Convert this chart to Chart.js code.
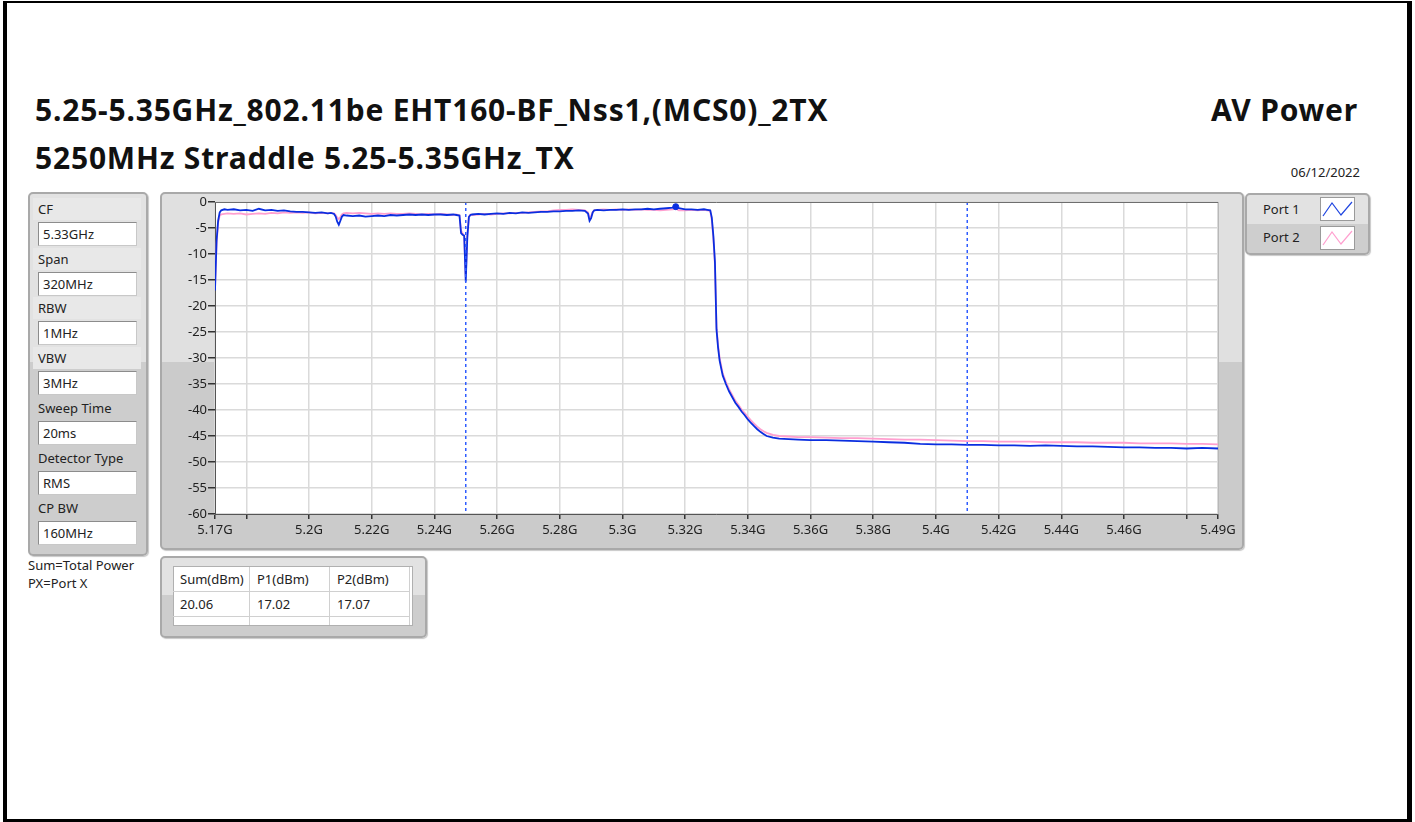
<!DOCTYPE html>
<html>
<head>
<meta charset="utf-8">
<script src="https://cdn.jsdelivr.net/npm/chart.js@4"></script>
<style>
  body { margin: 0; width: 1415px; height: 822px; background: #fff; position: relative; overflow: hidden;
         font-family: "Noto Sans", "Open Sans", sans-serif; color: #222; }
  .abs { position: absolute; white-space: nowrap; }
  .frame { left: 3px; top: 1px; width: 1400px; height: 816px; border-style: solid; border-color: #000;
           border-width: 2px 5px 3px 4px; }
  .title { font-weight: 700; font-size: 30px; letter-spacing: 0.8px; line-height: 34px; height: 34px; color: #111; }
  .small { font-size: 13px; line-height: 20px; height: 20px; }
  .panel { box-sizing: border-box; border: 2px solid #a9a9a9; border-radius: 5px;
           box-shadow: 1px 1px 1px #c8c8c8; }
  .lbl { left: 33px; width: 108px; height: 22px; line-height: 22px; font-size: 13px; padding-left: 5px;
         box-sizing: border-box; background: #e8e8e8; }
  .box { left: 38px; width: 99px; height: 24px; line-height: 22px; font-size: 13px; padding-left: 4px;
         box-sizing: border-box; background: #fff; border: 1px solid #8c8c8c; border-right-color: #c8c8c8;
         border-bottom-color: #c8c8c8; }
  .cell { font-size: 13px; height: 25px; line-height: 25px; padding-left: 7px; box-sizing: border-box;
          border-right: 1px solid #d0d0d0; border-bottom: 1px solid #d0d0d0; }
</style>
</head>
<body>
<div class="abs frame"></div>

<div class="abs title" style="left:35px; top:93px;">5.25-5.35GHz_802.11be EHT160-BF_Nss1,(MCS0)_2TX</div>
<div class="abs title" style="left:35px; top:141px;">5250MHz Straddle 5.25-5.35GHz_TX</div>
<div class="abs title" style="right:57px; top:93px;">AV Power</div>
<div class="abs small" style="right:55px; top:162px;">06/12/2022</div>

<!-- settings panel -->
<div class="abs panel" style="left:28px; top:192px; width:120px; height:364px;
     background: linear-gradient(#e2e2e2 0, #e2e2e2 168px, #cdcdcd 168px);"></div>
<div class="abs lbl" style="top:198px;">CF</div>
<div class="abs box" style="top:222px;">5.33GHz</div>
<div class="abs lbl" style="top:248px;">Span</div>
<div class="abs box" style="top:272px;">320MHz</div>
<div class="abs lbl" style="top:297px;">RBW</div>
<div class="abs box" style="top:321px;">1MHz</div>
<div class="abs lbl" style="top:347px;">VBW</div>
<div class="abs box" style="top:371px;">3MHz</div>
<div class="abs lbl" style="top:397px; background:transparent;">Sweep Time</div>
<div class="abs box" style="top:421px;">20ms</div>
<div class="abs lbl" style="top:447px; background:transparent;">Detector Type</div>
<div class="abs box" style="top:471px;">RMS</div>
<div class="abs lbl" style="top:497px; background:transparent;">CP BW</div>
<div class="abs box" style="top:521px;">160MHz</div>
<div class="abs small" style="left:28px; top:555px;">Sum=Total Power</div>
<div class="abs small" style="left:28px; top:573px;">PX=Port X</div>

<!-- graph panel -->
<div class="abs panel" style="left:160px; top:192px; width:1084px; height:358px;
     background: linear-gradient(#e0e0e0 0, #e0e0e0 168px, #cbcbcb 168px);"></div>
<canvas id="spec" class="abs" width="1084" height="358" style="left:160px; top:192px;"></canvas>

<!-- legend -->
<div class="abs panel" style="left:1245px; top:193px; width:125px; height:62px;
     background: linear-gradient(#e2e2e2 0, #e2e2e2 29px, #cecece 29px);"></div>
<div class="abs small" style="left:1263px; top:199px;">Port 1</div>
<div class="abs small" style="left:1263px; top:227px;">Port 2</div>
<svg class="abs" style="left:1320px; top:197px;" width="35" height="24">
  <rect x="0.5" y="0.5" width="34" height="23" fill="#fff" stroke="#9a9a9a"/>
  <polyline points="3,19 12,6 21,18 32,5" fill="none" stroke="#2046e0" stroke-width="1.2"/>
</svg>
<svg class="abs" style="left:1320px; top:226px;" width="35" height="24">
  <rect x="0.5" y="0.5" width="34" height="23" fill="#fff" stroke="#9a9a9a"/>
  <polyline points="3,19 12,6 21,18 32,5" fill="none" stroke="#ff9fcf" stroke-width="1.2"/>
</svg>

<!-- power table -->
<div class="abs panel" style="left:160px; top:556px; width:267px; height:82px;
     background: linear-gradient(#e2e2e2 0, #e2e2e2 37px, #cdcdcd 37px);"></div>
<div class="abs" style="left:173px; top:566px; width:240px; height:60px; background:#fff; border:1px solid #b0b0b0; box-sizing:border-box;"></div>
<div class="abs cell" style="left:173px; top:567px; width:77px;">Sum(dBm)</div>
<div class="abs cell" style="left:250px; top:567px; width:80px;">P1(dBm)</div>
<div class="abs cell" style="left:330px; top:567px; width:80px;">P2(dBm)</div>
<div class="abs cell" style="left:173px; top:592px; width:77px;">20.06</div>
<div class="abs cell" style="left:250px; top:592px; width:80px;">17.02</div>
<div class="abs cell" style="left:330px; top:592px; width:80px;">17.07</div>
<div class="abs cell" style="left:173px; top:617px; width:77px; height:8px; border-bottom:none;"></div>
<div class="abs cell" style="left:250px; top:617px; width:80px; height:8px; border-bottom:none;"></div>
<div class="abs cell" style="left:330px; top:617px; width:80px; height:8px; border-bottom:none;"></div>

<script>
// frequency in MHz, levels in dBm
const freqMHz = [
  5170, 5170.5, 5171, 5171.5, 5172, 5173, 5174, 5176, 5178, 5180,
  5182, 5184, 5186, 5188, 5190, 5192, 5194, 5196, 5198, 5200,
  5202, 5204, 5206, 5207, 5208, 5208.5, 5209, 5209.5, 5210, 5210.5,
  5211, 5212, 5214, 5216, 5218, 5220, 5222, 5224, 5226, 5228,
  5230, 5232, 5234, 5236, 5238, 5240, 5242, 5244, 5246, 5247,
  5248, 5248.5, 5249, 5249.5, 5250, 5250.5, 5251, 5251.5, 5252, 5254,
  5256, 5258, 5260, 5262, 5264, 5266, 5268, 5270, 5272, 5274,
  5276, 5278, 5280, 5282, 5284, 5286, 5288, 5289, 5289.5, 5290,
  5290.5, 5291, 5292, 5294, 5296, 5298, 5300, 5302, 5304, 5306,
  5308, 5310, 5312, 5314, 5316, 5317, 5318, 5320, 5322, 5324,
  5326, 5327, 5328, 5328.5, 5329, 5329.5, 5330, 5330.5, 5331, 5331.5,
  5332, 5333, 5334, 5335, 5336, 5337, 5338, 5339, 5340, 5341,
  5342, 5343, 5344, 5345, 5346, 5348, 5350, 5353, 5356, 5360,
  5365, 5370, 5375, 5380, 5385, 5390, 5395, 5400, 5405, 5410,
  5415, 5420, 5425, 5430, 5435, 5440, 5445, 5450, 5455, 5460,
  5465, 5470, 5475, 5480, 5485, 5490
];
const port1 = [
  -17.0, -7.5, -3.6, -2.0, -1.6, -1.4, -1.5, -1.4, -1.6, -1.5,
  -1.7, -1.3, -1.6, -1.5, -1.7, -1.6, -1.8, -1.9, -1.9, -2.0,
  -2.1, -2.0, -2.2, -2.1, -2.3, -2.8, -3.8, -4.4, -3.6, -2.8,
  -2.5, -2.6, -2.7, -2.6, -2.8, -2.7, -2.6, -2.7, -2.5, -2.6,
  -2.5, -2.4, -2.5, -2.4, -2.5, -2.4, -2.4, -2.5, -2.4, -2.5,
  -2.6, -6.0, -6.3, -6.5, -15.3, -6.8, -2.9, -2.5, -2.4, -2.3,
  -2.4, -2.3, -2.2, -2.3, -2.1, -2.2, -2.0, -2.1, -2.0, -1.9,
  -1.9, -1.8, -1.8, -1.7, -1.7, -1.6, -1.7, -2.2, -3.6, -3.1,
  -2.0, -1.6, -1.5, -1.6, -1.5, -1.5, -1.4, -1.5, -1.4, -1.4,
  -1.3, -1.4, -1.3, -1.2, -1.1, -0.9, -1.2, -1.4, -1.4, -1.5,
  -1.4, -1.5, -1.6, -3.0, -6.5, -11.5, -24.5, -28.0, -30.5, -32.0,
  -33.4, -35.0, -36.4, -37.5, -38.6, -39.4, -40.3, -41.0, -41.8, -42.5,
  -43.1, -43.7, -44.2, -44.6, -45.0, -45.3, -45.5, -45.6, -45.7, -45.8,
  -45.8, -45.9, -46.0, -46.1, -46.2, -46.3, -46.5, -46.6, -46.6, -46.7,
  -46.7, -46.8, -46.8, -46.9, -46.8, -46.9, -47.0, -47.0, -47.1, -47.2,
  -47.2, -47.3, -47.3, -47.4, -47.3, -47.4
];
const port2 = [
  -16.5, -8.0, -4.0, -2.6, -2.4, -2.3, -2.2, -2.3, -2.2, -2.4,
  -2.3, -2.2, -2.3, -2.1, -2.2, -2.0, -2.1, -2.0, -2.1, -2.0,
  -2.2, -2.1, -2.2, -2.1, -2.2, -2.5, -3.0, -3.3, -2.9, -2.4,
  -2.2, -2.1, -2.2, -2.1, -2.2, -2.3, -2.2, -2.3, -2.2, -2.3,
  -2.3, -2.2, -2.3, -2.4, -2.3, -2.4, -2.3, -2.4, -2.5, -2.4,
  -2.6, -5.5, -6.0, -6.5, -14.5, -6.4, -2.8, -2.4, -2.5, -2.4,
  -2.3, -2.4, -2.3, -2.2, -2.2, -2.1, -2.1, -2.0, -1.9, -1.8,
  -1.8, -1.6, -1.5, -1.5, -1.4, -1.5, -1.6, -2.0, -3.0, -2.7,
  -1.9, -1.6, -1.5, -1.4, -1.5, -1.4, -1.5, -1.4, -1.5, -1.4,
  -1.5, -1.5, -1.6, -1.5, -1.4, -1.3, -1.6, -1.6, -1.5, -1.6,
  -1.5, -1.6, -1.7, -3.5, -7.0, -12.0, -24.0, -27.5, -30.0, -31.5,
  -33.0, -34.6, -36.0, -37.1, -38.2, -39.0, -39.9, -40.6, -41.3, -42.0,
  -42.6, -43.2, -43.7, -44.1, -44.4, -44.8, -45.0, -45.1, -45.2, -45.2,
  -45.3, -45.4, -45.4, -45.5, -45.6, -45.7, -45.7, -45.8, -45.9, -46.0,
  -46.0, -46.1, -46.1, -46.1, -46.2, -46.2, -46.2, -46.3, -46.3, -46.3,
  -46.4, -46.4, -46.4, -46.5, -46.5, -46.6
];
const peakFreq = 5317;
const peakLevel = -0.9;
const markerFreqs = [5250, 5410];
const xTickValues = [5170, 5180, 5200, 5220, 5240, 5260, 5280, 5300, 5320, 5340,
                     5360, 5380, 5400, 5420, 5440, 5460, 5480, 5490];
const xTickLabels = ['5.17G', '', '5.2G', '5.22G', '5.24G', '5.26G', '5.28G', '5.3G', '5.32G', '5.34G',
                     '5.36G', '5.38G', '5.4G', '5.42G', '5.44G', '5.46G', '', '5.49G'];
const yTickValues = [0, -5, -10, -15, -20, -25, -30, -35, -40, -45, -50, -55, -60];

const BLUE = '#0a2ee0';
const PINK = '#ff9fcf';

const toXY = (ys) => freqMHz.map((f, i) => ({ x: f, y: ys[i] }));

const plotBg = {
  id: 'plotBg',
  beforeDraw(chart) {
    const { ctx, chartArea: a } = chart;
    ctx.save();
    ctx.fillStyle = '#fff';
    ctx.fillRect(a.left, a.top, a.right - a.left, a.bottom - a.top);
    ctx.restore();
  },
  afterDraw(chart) {
    const { ctx, chartArea: a } = chart;
    ctx.save();
    ctx.strokeStyle = '#6e6e6e';
    ctx.lineWidth = 1;
    ctx.beginPath();
    ctx.moveTo(a.left, a.top + 0.5);
    ctx.lineTo(a.right, a.top + 0.5);
    ctx.stroke();
    ctx.strokeStyle = '#b8b8b8';
    ctx.beginPath();
    ctx.moveTo(a.right + 0.5, a.top);
    ctx.lineTo(a.right + 0.5, a.bottom);
    ctx.stroke();
    ctx.restore();
  }
};

const datasets = [];
markerFreqs.forEach((f) => {
  datasets.push({
    data: [{ x: f, y: 0 }, { x: f, y: -60 }],
    borderColor: '#2f5cff', borderWidth: 1.5, borderDash: [3, 3],
    pointRadius: 0, order: 0
  });
});
datasets.push({
  data: [{ x: peakFreq, y: peakLevel }],
  showLine: false, pointRadius: 3, pointBackgroundColor: BLUE, pointBorderColor: BLUE, order: 0
});
datasets.push({
  label: 'Port 1', data: toXY(port1),
  borderColor: BLUE, borderWidth: 1.8, pointRadius: 0, tension: 0, order: 1
});
datasets.push({
  label: 'Port 2', data: toXY(port2),
  borderColor: PINK, borderWidth: 1.8, pointRadius: 0, tension: 0, order: 2
});

new Chart(document.getElementById('spec').getContext('2d'), {
  type: 'line',
  data: { datasets: datasets },
  options: {
    responsive: false,
    animation: false,
    layout: { padding: { top: 10, right: 26, left: 0, bottom: 0 } },
    plugins: { legend: { display: false }, tooltip: { enabled: false } },
    scales: {
      x: {
        type: 'linear', min: 5170, max: 5490,
        afterBuildTicks: (s) => { s.ticks = xTickValues.map((v) => ({ value: v })); },
        afterFit: (s) => { s.height = 36; },
        ticks: {
          autoSkip: false, maxRotation: 0, padding: 3, color: '#222',
          font: { family: 'Noto Sans', size: 13 },
          callback: (v, i) => xTickLabels[i]
        },
        grid: { color: '#dadada', lineWidth: 1.5, tickColor: '#333', tickLength: 5 },
        border: { display: true, color: '#555', width: 1 }
      },
      y: {
        min: -60, max: 0,
        afterBuildTicks: (s) => { s.ticks = yTickValues.map((v) => ({ value: v })); },
        afterFit: (s) => { s.width = 55; },
        ticks: { padding: 1, color: '#222', font: { family: 'Noto Sans', size: 13 } },
        grid: { color: '#dadada', lineWidth: 1.5, tickColor: '#333', tickLength: 7 },
        border: { display: true, color: '#555', width: 1 }
      }
    }
  },
  plugins: [plotBg]
});
</script>
</body>
</html>
